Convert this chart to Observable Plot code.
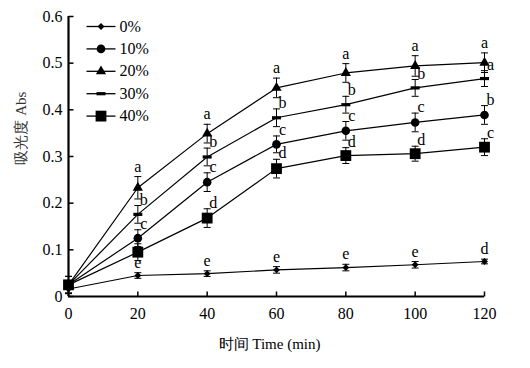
<!DOCTYPE html>
<html><head><meta charset="utf-8">
<script src="https://cdn.jsdelivr.net/npm/d3@7"></script>
<script src="https://cdn.jsdelivr.net/npm/@observablehq/plot@0.6"></script>
<style>body{margin:0;background:#fff}</style>
</head><body><div id="chart"></div>
<script>
const times = [0, 20, 40, 60, 80, 100, 120];
const seriesNames = ["0%", "10%", "20%", "30%", "40%"];
const abs0  = [0.016, 0.045, 0.049, 0.057, 0.062, 0.068, 0.075];
const err0  = [0.010, 0.006, 0.006, 0.007, 0.007, 0.007, 0.005];
const abs10 = [0.025, 0.125, 0.245, 0.326, 0.355, 0.373, 0.389];
const err10 = [0.018, 0.018, 0.020, 0.018, 0.020, 0.020, 0.020];
const abs20 = [0.025, 0.233, 0.349, 0.447, 0.479, 0.494, 0.501];
const err20 = [0.018, 0.024, 0.020, 0.021, 0.020, 0.022, 0.021];
const abs30 = [0.025, 0.176, 0.299, 0.383, 0.411, 0.447, 0.467];
const err30 = [0.018, 0.019, 0.019, 0.019, 0.018, 0.018, 0.017];
const abs40 = [0.025, 0.095, 0.168, 0.274, 0.302, 0.306, 0.320];
const err40 = [0.018, 0.018, 0.020, 0.020, 0.017, 0.016, 0.018];
const let0  = ["", "e", "e", "e", "e", "e", "d"];
const let10 = ["", "c", "c", "c", "c", "c", "b"];
const let20 = ["", "a", "a", "a", "a", "a", "a"];
const let30 = ["", "b", "b", "b", "b", "b", "a"];
const let40 = ["", "", "d", "d", "d", "d", "c"];
const yTicks = [0, 0.1, 0.2, 0.3, 0.4, 0.5, 0.6];
const xTicks = [0, 20, 40, 60, 80, 100, 120];
const xTitle = "时间 Time (min)";
const yTitle = "吸光度 Abs";

const hline = w => ({draw(ctx){ ctx.moveTo(-w, 0); ctx.lineTo(w, 0); }});
const vline = h => ({draw(ctx){ ctx.moveTo(0, -h); ctx.lineTo(0, h); }});
const barSym = {draw(ctx){ ctx.rect(-4.5, -1.6, 9, 3.2); }};

const marker = [
  {symbol: "diamond2", r: 3.1},
  {symbol: "circle", r: 4.3},
  {symbol: "triangle", r: 3.8},
  {symbol: barSym, r: 3},
  {symbol: "square", r: 6.1}
];
const values = [abs0, abs10, abs20, abs30, abs40];
const errs = [err0, err10, err20, err30, err40];
const letters = [let0, let10, let20, let30, let40];

const rows = [];
seriesNames.forEach((s, i) => times.forEach((t, j) => rows.push({
  series: s, si: i, t, v: values[i][j], e: errs[i][j], lab: letters[i][j]
})));

const font = "Liberation Serif";
const marks = [];

// error bars
marks.push(Plot.ruleX(rows, {x: "t", y1: d => d.v - d.e, y2: d => d.v + d.e, stroke: "black", strokeWidth: 1}));
marks.push(Plot.dot(rows, {x: "t", y: d => d.v - d.e, symbol: hline(3.5), r: 3, fill: "none", stroke: "black", strokeWidth: 1}));
marks.push(Plot.dot(rows, {x: "t", y: d => d.v + d.e, symbol: hline(3.5), r: 3, fill: "none", stroke: "black", strokeWidth: 1}));

// lines and markers
seriesNames.forEach((s, i) => {
  const d = rows.filter(r => r.si === i);
  marks.push(Plot.line(d, {x: "t", y: "v", stroke: "black", strokeWidth: 1.2}));
  marks.push(Plot.dot(d, {x: "t", y: "v", symbol: marker[i].symbol, r: marker[i].r, fill: "black", stroke: "none"}));
});

// significance letters
const centered = rows.filter(r => r.lab && (r.si === 2));
const centered0 = rows.filter(r => r.lab && (r.si === 0));
const side = rows.filter(r => r.lab && r.si !== 2 && r.si !== 0);
marks.push(Plot.text(centered, {x: "t", y: d => d.v + d.e, text: "lab", lineAnchor: "bottom", dy: -5, fontSize: 16, fontFamily: font, fill: "black"}));
marks.push(Plot.text(centered0, {x: "t", y: d => d.v + d.e, text: "lab", lineAnchor: "bottom", dy: -5, fontSize: 16, fontFamily: font, fill: "black"}));
marks.push(Plot.text(side, {x: "t", y: d => d.v + d.e, text: "lab", lineAnchor: "bottom", dx: 6, dy: -1, fontSize: 16, fontFamily: font, fill: "black"}));

// axes
marks.push(Plot.axisY({ticks: yTicks, tickSize: 0, tickPadding: 6, tickFormat: d => d === 0 ? "0" : d.toFixed(1), fontSize: 16, fontFamily: font, label: null}));
marks.push(Plot.axisX({ticks: xTicks, tickSize: 0, tickPadding: 11, tickFormat: d => String(d), fontSize: 16, fontFamily: font, label: null}));
marks.push(Plot.dot(yTicks, {x: 0, y: d => d, symbol: hline(2.5), r: 2, dx: 2.5, fill: "none", stroke: "black", strokeWidth: 1.5}));
marks.push(Plot.dot(xTicks, {x: d => d, y: 0, symbol: vline(2.5), r: 2, dy: -2.5, fill: "none", stroke: "black", strokeWidth: 1.5}));
marks.push(Plot.ruleX([0], {stroke: "black", strokeWidth: 2.2}));
marks.push(Plot.ruleY([0], {stroke: "black", strokeWidth: 2.2}));

// axis titles
marks.push(Plot.text([xTitle], {frameAnchor: "bottom", dy: 48, dx: -7, lineAnchor: "middle", fontSize: 15, fontFamily: font, fill: "black"}));
marks.push(Plot.text([yTitle], {frameAnchor: "left", dx: -47, dy: 8, rotate: -90, lineAnchor: "middle", fontSize: 15, fontFamily: font, fill: "#333"}));

// legend
seriesNames.forEach((s, i) => {
  const dy = 10 + i * 22.4;
  marks.push(Plot.dot([s], {frameAnchor: "top-left", dx: 32.5, dy, symbol: hline(14.5), r: 3, fill: "none", stroke: "black", strokeWidth: 1.3}));
  marks.push(Plot.dot([s], {frameAnchor: "top-left", dx: 32.5, dy, symbol: marker[i].symbol, r: marker[i].r, fill: "black", stroke: "none"}));
  marks.push(Plot.text([s], {frameAnchor: "top-left", dx: 51, dy, textAnchor: "start", lineAnchor: "middle", fontSize: 16, fontFamily: font, fill: "black"}));
});

const chart = Plot.plot({
  width: 530, height: 368,
  marginLeft: 68, marginRight: 46, marginTop: 16, marginBottom: 72,
  style: {fontFamily: font, fontSize: "15px", color: "black", background: "white"},
  x: {domain: [0, 120]},
  y: {domain: [0, 0.6]},
  marks
});
document.getElementById("chart").appendChild(chart);
</script>
</body></html>
